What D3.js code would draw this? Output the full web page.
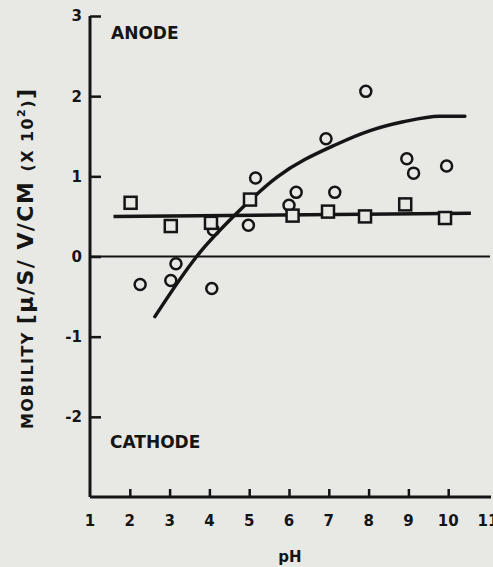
<!DOCTYPE html>
<html>
<head>
<meta charset="utf-8">
<script src="https://cdn.jsdelivr.net/npm/d3@7"></script>
<style>
  body { margin: 0; background: #e8e8e5; }
  svg { display: block; }
  text { font-family: "DejaVu Sans", sans-serif; font-weight: bold; fill: #151515; }
</style>
</head>
<body>
<svg id="chart" width="493" height="567"></svg>
<script>
// data
var circle_ph  = [2.26, 3.16, 3.03, 4.06, 4.1, 4.98, 5.16, 6.0, 6.18, 6.93, 7.15, 7.93, 8.96, 9.13, 9.96];
var circle_mob = [-0.35, -0.09, -0.30, -0.40, 0.33, 0.39, 0.98, 0.64, 0.80, 1.47, 0.80, 2.06, 1.22, 1.04, 1.13];
var square_ph  = [2.02, 3.03, 4.04, 5.02, 6.09, 6.98, 7.91, 8.92, 9.92];
var square_mob = [0.67, 0.38, 0.42, 0.71, 0.51, 0.56, 0.50, 0.65, 0.48];
var curve_ph   = [2.63, 3.68, 4.73, 5.70, 7.2, 8.04, 8.87, 9.79, 10.42];
var curve_mob  = [-0.75, 0.0, 0.56, 0.99, 1.40, 1.57, 1.68, 1.75, 1.75];
var flat_ph    = [1.59, 10.57];
var flat_mob   = [0.50, 0.54];
var x_ticks = [1, 2, 3, 4, 5, 6, 7, 8, 9, 10, 11];
var y_ticks = [-2, -1, 0, 1, 2, 3];

var svg = d3.select("#chart");
var ink = "#151515";

var x = d3.scaleLinear().domain([1, 11]).range([90, 488]);
var y = d3.scaleLinear().domain([-3, 3]).range([497, 16]);

// axes
var yAxis = d3.axisRight(y).tickValues(y_ticks).tickSize(11).tickFormat("");
var gy = svg.append("g").attr("transform", "translate(" + x(1) + ",0)").call(yAxis);
gy.select(".domain").attr("d", "M0," + y(3) + "V" + y(-3)).attr("stroke", ink).attr("stroke-width", 3);
gy.selectAll(".tick line").attr("stroke", ink).attr("stroke-width", 2.5);

var xAxis = d3.axisTop(x).tickValues(x_ticks.slice(1, 10)).tickSize(8).tickFormat("");
var gx = svg.append("g").attr("transform", "translate(0," + y(-3) + ")").call(xAxis);
gx.select(".domain").attr("d", "M" + x(1) + ",0H" + (x(11) + 3)).attr("stroke", ink).attr("stroke-width", 3);
gx.selectAll(".tick line").attr("stroke", ink).attr("stroke-width", 2.5);

// tick labels
svg.selectAll("text.ylab").data(y_ticks).enter().append("text")
	.attr("class", "ylab")
	.attr("x", x(1) - 8)
	.attr("y", function(d) { return y(d); })
	.attr("dy", ".36em")
	.attr("text-anchor", "end")
	.style("font-size", "15px")
	.text(function(d) { return d < 0 ? "-" + Math.abs(d) : d; });

svg.selectAll("text.xlab").data(x_ticks).enter().append("text")
	.attr("class", "xlab")
	.attr("x", function(d) { return x(d); })
	.attr("y", y(-3) + 29)
	.attr("text-anchor", "middle")
	.style("font-size", "15px")
	.text(function(d) { return d; });

// zero line
svg.append("line")
	.attr("x1", x(1)).attr("x2", x(11) + 2)
	.attr("y1", y(0)).attr("y2", y(0))
	.attr("stroke", ink).attr("stroke-width", 1.8);

// fitted lines
var line = d3.line().x(function(d) { return x(d[0]); }).y(function(d) { return y(d[1]); });
svg.append("path")
	.datum(d3.zip(flat_ph, flat_mob))
	.attr("d", line)
	.attr("fill", "none").attr("stroke", ink).attr("stroke-width", 3.5);
svg.append("path")
	.datum(d3.zip(curve_ph, curve_mob))
	.attr("d", line.curve(d3.curveMonotoneX))
	.attr("fill", "none").attr("stroke", ink).attr("stroke-width", 3.5).attr("stroke-linecap", "round");

// circles
svg.selectAll("circle.pt").data(d3.zip(circle_ph, circle_mob)).enter().append("circle")
	.attr("class", "pt")
	.attr("cx", function(d) { return x(d[0]); })
	.attr("cy", function(d) { return y(d[1]); })
	.attr("r", 5.5)
	.attr("fill", "none").attr("stroke", ink).attr("stroke-width", 2.5);

// squares
svg.selectAll("rect.pt").data(d3.zip(square_ph, square_mob)).enter().append("rect")
	.attr("class", "pt")
	.attr("x", function(d) { return x(d[0]) - 6; })
	.attr("y", function(d) { return y(d[1]) - 6; })
	.attr("width", 12).attr("height", 12)
	.attr("fill", "#e8e8e5").attr("stroke", ink).attr("stroke-width", 2.5);

// annotations
svg.append("text").attr("x", 111).attr("y", 39).style("font-size", "17px").text("ANODE");
svg.append("text").attr("x", 110).attr("y", 448).style("font-size", "17px").text("CATHODE");
svg.append("text").attr("x", 290).attr("y", 562).attr("text-anchor", "middle").style("font-size", "15px").text("pH");

// y title, stretched to the same length as the original
var ylab = svg.append("text")
	.attr("transform", "translate(33,259) rotate(-90)")
	.attr("text-anchor", "middle")
	.attr("textLength", 340)
	.attr("lengthAdjust", "spacing");
ylab.append("tspan").style("font-size", "16px").text("MOBILITY ");
ylab.append("tspan").style("font-size", "22px").text("[\u03BC/S/ V/CM ");
ylab.append("tspan").style("font-size", "16px").text("(X 10");
ylab.append("tspan").style("font-size", "11px").attr("dy", -8).text("2");
ylab.append("tspan").style("font-size", "16px").attr("dy", 8).text(")");
ylab.append("tspan").style("font-size", "22px").text("]");
</script>
</body>
</html>
